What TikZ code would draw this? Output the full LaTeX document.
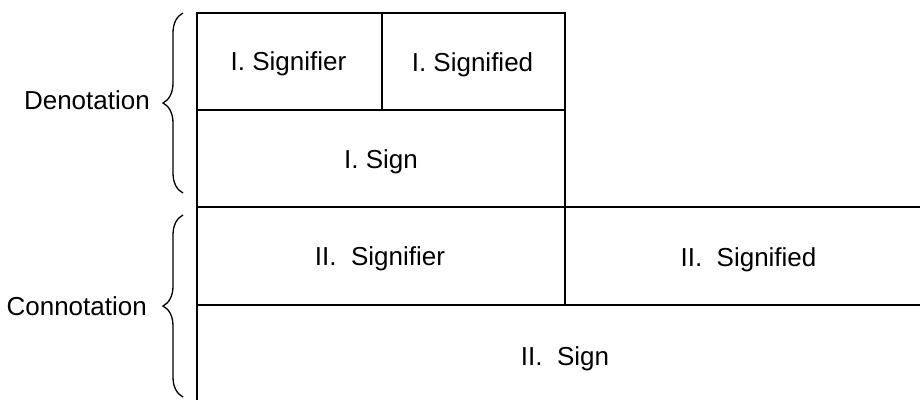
\documentclass[tikz,border=0pt]{standalone}
\usepackage{fontspec}
\setmainfont{Liberation Sans}
\usetikzlibrary{decorations.pathreplacing}
\begin{document}
\begin{tikzpicture}[x=1pt,y=-1pt,
  gridline/.style={line width=1.8pt,line cap=rect},
  cell/.style={anchor=base,inner sep=0pt,font=\fontsize{26}{31}\selectfont},
  sidelabel/.style={anchor=base east,inner sep=0pt,font=\fontsize{26}{31}\selectfont},
  bracket/.style={line width=1.3pt,decorate,decoration={brace,amplitude=20pt}}]
\useasboundingbox (0,0) rectangle (920,399);

% grid of the two layers
\draw[gridline] (197,13) -- (565,13);
\draw[gridline] (197,110) -- (565,110);
\draw[gridline] (197,207) -- (925,207);
\draw[gridline] (197,305) -- (925,305);
\draw[gridline] (197,13) -- (197,405);
\draw[gridline] (382,13) -- (382,110);
\draw[gridline] (565,13) -- (565,305);

% cell texts
\node[cell] (sigI)   at (288.5,70) {I. Signifier};
\node[cell] (sigdI)  at (472.5,71) {I. Signified};
\node[cell] (signI)  at (381,168) {I. Sign};
\node[cell] (sigII)  at (380,265) {II.~~Signifier};
\node[cell] (sigdII) at (748.5,266) {II.~~Signified};
\node[cell] (signII) at (565,365) {II.~~Sign};

% braces and their labels
\coordinate (dtop) at (183,13);
\coordinate (dbot) at (183,193);
\coordinate (ctop) at (183,215);
\coordinate (cbot) at (183,397);
\draw[bracket] (dbot) -- (dtop);
\draw[bracket] (cbot) -- (ctop);
\node[sidelabel] (deno) at (150,109) {Denotation};
\node[sidelabel] (conno) at (147,315) {Connotation};
\end{tikzpicture}
\end{document}
